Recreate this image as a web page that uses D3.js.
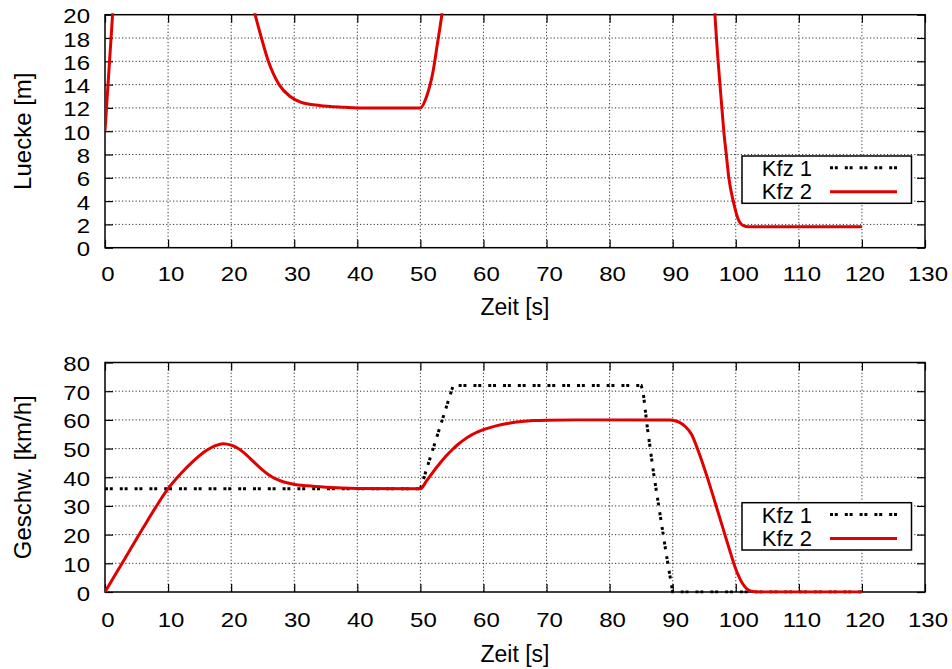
<!DOCTYPE html>
<html>
<head>
<meta charset="utf-8">
<script src="https://cdn.jsdelivr.net/npm/d3@7"></script>
<style>
  body { margin: 0; background: #fff; }
  text { font-family: "Liberation Sans", Arial, Helvetica, sans-serif; fill: #000; }
  .grid { stroke: #333; stroke-width: 1; stroke-dasharray: 1.2, 2.2; }
</style>
</head>
<body>
<script>
// size of the picture
var svgWidth = 952;
var svgHeight = 669;

// tick values
var timeTicks = [0, 10, 20, 30, 40, 50, 60, 70, 80, 90, 100, 110, 120, 130];
var gapTicks = [0, 2, 4, 6, 8, 10, 12, 14, 16, 18, 20];
var speedTicks = [0, 10, 20, 30, 40, 50, 60, 70, 80];

var seriesNames = ["Kfz 1", "Kfz 2"];

// Luecke of Kfz 2 [m] (values above 20 leave the panel and get clipped)
var gapTime = [0, 1.2, 2, 5, 10, 15, 18, 21, 23.8, 24.8, 25.9, 27.6, 29.3, 31, 34, 38, 40, 50,
  51, 52, 52.7, 53.4, 55, 60, 70, 80, 85, 88, 90, 92, 94, 95.5, 96.7, 97.2, 97.8, 98.1, 98.5,
  98.9, 99.6, 100.5, 101.2, 102, 120];
var gapKfz2 = [10, 20, 26, 42, 55, 48, 38, 27, 20, 18, 16, 14, 13, 12.5, 12.2, 12.05, 12, 12,
  13, 15.1, 17.5, 20, 28, 48, 85, 120, 135, 133, 125, 95, 60, 35, 20, 16, 12, 10, 8,
  6, 4, 2.3, 1.9, 1.8, 1.8];

// Geschwindigkeit [km/h]
var speedTime1 = [0, 50, 55.2, 85, 85.3, 86, 87, 88, 89, 90, 120];
var speedKfz1 = [36, 36, 72, 72, 70, 57, 41, 27, 13, 0, 0];

var speedTime2 = [0, 3, 6, 8, 10, 12, 14, 16, 17.5, 18.7, 20, 21, 22, 23, 24, 25, 26, 27, 28,
  29, 30, 32, 35, 40, 50, 51, 52, 53, 54, 55, 56, 57, 58, 59, 60, 62, 64, 66, 68, 70,
  75, 89.5, 90, 91, 92, 93, 94, 95, 96, 97, 98, 99, 100, 101, 102, 103, 104, 120];
var speedKfz2 = [0, 11.1, 22.2, 29.4, 36, 41.2, 45.6, 49.2, 51, 51.7, 51.2, 50.2, 48.6, 46.6, 44.5, 42.5, 40.8, 39.5, 38.6,
  38, 37.5, 37, 36.5, 36.1, 36, 38.8, 41.8, 44.6, 47.2, 49.5, 51.5, 53.2, 54.6, 55.7, 56.6, 57.9, 58.8, 59.4, 59.75, 59.9,
  60, 60, 59.9, 59.2, 57.7, 54.9, 49.5, 43.2, 36.4, 29.2, 22, 14.8, 8, 3.2, 0.7, 0.1, 0, 0];

var plotLeft = 105;
var plotRight = 925;

var svg = d3.select("body")
  .append("svg")
  .attr("width", svgWidth)
  .attr("height", svgHeight);

var xScale = d3.scaleLinear()
  .domain([0, 130])
  .range([plotLeft, plotRight]);

// draws frame, grid, ticks and labels of one panel, returns its y scale
function drawPanel(p) {
  var yScale = d3.scaleLinear()
    .domain([p.ticks[0], p.ticks[p.ticks.length - 1]])
    .range([p.bottom, p.top]);

  svg.append("clipPath").attr("id", p.id)
    .append("rect")
    .attr("x", plotLeft)
    .attr("y", p.top - 1.5)
    .attr("width", plotRight - plotLeft)
    .attr("height", p.bottom - p.top + 3);

  var g = svg.append("g");

  // dotted grid
  g.append("g").selectAll("line")
    .data(timeTicks.slice(1, -1)).enter().append("line")
    .attr("class", "grid")
    .attr("x1", d => xScale(d)).attr("x2", d => xScale(d))
    .attr("y1", p.top).attr("y2", p.bottom);
  g.append("g").selectAll("line")
    .data(p.ticks.slice(1, -1)).enter().append("line")
    .attr("class", "grid")
    .attr("x1", plotLeft).attr("x2", plotRight)
    .attr("y1", d => yScale(d)).attr("y2", d => yScale(d));

  // ticks pointing inward on all four sides
  var bottomAxis = g.append("g")
    .attr("transform", `translate(0, ${p.bottom})`)
    .call(d3.axisBottom(xScale).tickValues(timeTicks).tickSize(-8));
  bottomAxis.selectAll("text")
    .attr("y", null).attr("dy", null)
    .attr("font-size", 20)
    .attr("transform", `translate(2.5, ${p.xTickBase}) scale(1.2, 1)`);

  g.append("g")
    .attr("transform", `translate(0, ${p.top})`)
    .call(d3.axisTop(xScale).tickValues(timeTicks).tickSize(-8).tickFormat(""));

  var leftAxis = g.append("g")
    .attr("transform", `translate(${plotLeft}, 0)`)
    .call(d3.axisLeft(yScale).tickValues(p.ticks).tickSize(-8));
  leftAxis.selectAll("text")
    .attr("x", -12.5).attr("dy", "0.4em")
    .attr("font-size", 20)
    .attr("transform", "scale(1.2, 1)");

  g.append("g")
    .attr("transform", `translate(${plotRight}, 0)`)
    .call(d3.axisRight(yScale).tickValues(p.ticks).tickSize(-8).tickFormat(""));

  g.selectAll(".domain").remove();
  g.selectAll(".tick line").attr("stroke", "#000").attr("stroke-width", 1.2);

  // frame
  g.append("rect")
    .attr("x", plotLeft).attr("y", p.top)
    .attr("width", plotRight - plotLeft).attr("height", p.bottom - p.top)
    .attr("fill", "none").attr("stroke", "#000").attr("stroke-width", 1.5);

  // axis titles
  g.append("text")
    .attr("x", (plotLeft + plotRight) / 2)
    .attr("y", p.xTitleBase)
    .attr("text-anchor", "middle")
    .attr("font-size", 23)
    .text("Zeit [s]");

  g.append("text")
    .attr("transform", `translate(31, ${(p.top + p.bottom) / 2}) rotate(-90)`)
    .attr("text-anchor", "middle")
    .attr("font-size", 24)
    .text(p.yLabel);

  return yScale;
}

function drawLegend(top) {
  var lg = svg.append("g");
  lg.append("rect")
    .attr("x", 742).attr("y", top)
    .attr("width", 169.5).attr("height", 47.3)
    .attr("fill", "#fff").attr("stroke", "#000").attr("stroke-width", 1.5);

  lg.selectAll("text.lab").data(seriesNames).enter().append("text")
    .attr("class", "lab")
    .attr("x", 812)
    .attr("y", (d, i) => top + 20 + i * 23.3)
    .attr("text-anchor", "end")
    .attr("font-size", 22)
    .text(d => d);

  lg.append("line")
    .attr("x1", 830).attr("x2", 897)
    .attr("y1", top + 11.7).attr("y2", top + 11.7)
    .attr("stroke", "#000").attr("stroke-width", 3)
    .attr("stroke-dasharray", "3,1.8,3,7");
  lg.append("line")
    .attr("x1", 830).attr("x2", 897)
    .attr("y1", top + 35.7).attr("y2", top + 35.7)
    .attr("stroke", "#e00000").attr("stroke-width", 3);
}

// top panel: Luecke
var yGap = drawPanel({
  id: "clipTop", top: 14.7, bottom: 247.7, ticks: gapTicks,
  yLabel: "Luecke [m]", xTickBase: 33.3, xTitleBase: 315
});

var gapLine = d3.line()
  .x(d => xScale(d[0]))
  .y(d => yGap(d[1]))
  .curve(d3.curveMonotoneX);

svg.append("path")
  .datum(gapTime.map((t, i) => [t, gapKfz2[i]]))
  .attr("clip-path", "url(#clipTop)")
  .attr("d", gapLine)
  .attr("fill", "none")
  .attr("stroke", "#e00000")
  .attr("stroke-width", 3)
  .attr("stroke-linejoin", "round");

drawLegend(156);

// bottom panel: Geschwindigkeit
var ySpeed = drawPanel({
  id: "clipBottom", top: 362.5, bottom: 592, ticks: speedTicks,
  yLabel: "Geschw. [km/h]", xTickBase: 35.3, xTitleBase: 662
});

var speedLine1 = d3.line()
  .x(d => xScale(d[0]))
  .y(d => ySpeed(d[1]));

var speedLine2 = d3.line()
  .x(d => xScale(d[0]))
  .y(d => ySpeed(d[1]))
  .curve(d3.curveMonotoneX);

svg.append("path")
  .datum(speedTime1.map((t, i) => [t, speedKfz1[i]]))
  .attr("clip-path", "url(#clipBottom)")
  .attr("d", speedLine1)
  .attr("fill", "none")
  .attr("stroke", "#000")
  .attr("stroke-width", 3)
  .attr("stroke-dasharray", "3,1.8,3,7");

svg.append("path")
  .datum(speedTime2.map((t, i) => [t, speedKfz2[i]]))
  .attr("clip-path", "url(#clipBottom)")
  .attr("d", speedLine2)
  .attr("fill", "none")
  .attr("stroke", "#e00000")
  .attr("stroke-width", 3)
  .attr("stroke-linejoin", "round");

drawLegend(502.7);
</script>
</body>
</html>
